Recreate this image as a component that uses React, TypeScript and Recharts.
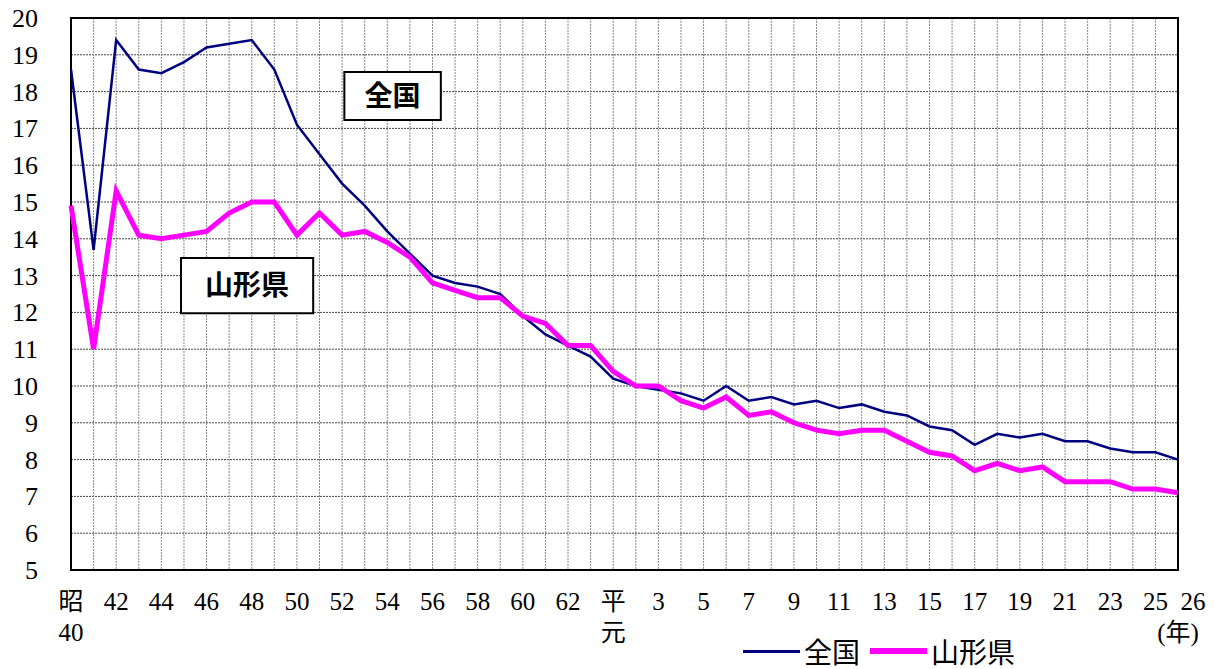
import React from "react";
import {
  LineChart,
  Line,
  XAxis,
  YAxis,
  CartesianGrid,
  Legend,
  ReferenceArea,
} from "recharts";

const years = [
  "昭40", "41", "42", "43", "44", "45", "46", "47", "48", "49",
  "50", "51", "52", "53", "54", "55", "56", "57", "58", "59",
  "60", "61", "62", "63", "平元", "2", "3", "4", "5", "6",
  "7", "8", "9", "10", "11", "12", "13", "14", "15", "16",
  "17", "18", "19", "20", "21", "22", "23", "24", "25", "26",
];

const national = [
  18.6, 13.7, 19.4, 18.6, 18.5, 18.8, 19.2, 19.3, 19.4, 18.6,
  17.1, 16.3, 15.5, 14.9, 14.2, 13.6, 13.0, 12.8, 12.7, 12.5,
  11.9, 11.4, 11.1, 10.8, 10.2, 10.0, 9.9, 9.8, 9.6, 10.0,
  9.6, 9.7, 9.5, 9.6, 9.4, 9.5, 9.3, 9.2, 8.9, 8.8,
  8.4, 8.7, 8.6, 8.7, 8.5, 8.5, 8.3, 8.2, 8.2, 8.0,
];

const yamagata = [
  14.9, 11.0, 15.3, 14.1, 14.0, 14.1, 14.2, 14.7, 15.0, 15.0,
  14.1, 14.7, 14.1, 14.2, 13.9, 13.5, 12.8, 12.6, 12.4, 12.4,
  11.9, 11.7, 11.1, 11.1, 10.4, 10.0, 10.0, 9.6, 9.4, 9.7,
  9.2, 9.3, 9.0, 8.8, 8.7, 8.8, 8.8, 8.5, 8.2, 8.1,
  7.7, 7.9, 7.7, 7.8, 7.4, 7.4, 7.4, 7.2, 7.2, 7.1,
];

// x tick labels, first and second row
const xTickTop = [
  "昭", "", "42", "", "44", "", "46", "", "48", "",
  "50", "", "52", "", "54", "", "56", "", "58", "",
  "60", "", "62", "", "平", "", "3", "", "5", "",
  "7", "", "9", "", "11", "", "13", "", "15", "",
  "17", "", "19", "", "21", "", "23", "", "25", "26",
];
const xTickBottom: Record<number, string> = { 0: "40", 24: "元", 49: "(年)" };

const yTicks = [5, 6, 7, 8, 9, 10, 11, 12, 13, 14, 15, 16, 17, 18, 19, 20];

// annotation boxes in data units
const boxes = [
  { label: "全国", x1: 12.1, x2: 16.37, y1: 17.23, y2: 18.53 },
  { label: "山形県", x1: 4.87, x2: 10.72, y1: 11.98, y2: 13.48 },
];

const data = years.map((year, i) => ({
  i,
  year,
  national: national[i],
  yamagata: yamagata[i],
}));

const serif = "'Times New Roman', 'Liberation Serif', 'Noto Sans CJK JP', serif";
const gothic = "'Noto Sans CJK JP', sans-serif";

function XTick(props: any) {
  const { x, y, payload } = props;
  const idx = payload.value as number;
  const top = xTickTop[idx];
  const bottom = xTickBottom[idx];
  const dx = idx === 49 ? 15 : 0;
  return (
    <g>
      {top && (
        <text x={x + dx} y={y + 32} textAnchor="middle" fontSize={25} style={{ fontFamily: serif }} fill="#000">
          {top}
        </text>
      )}
      {bottom && (
        <text x={x} y={y + 63} textAnchor="middle" fontSize={25} style={{ fontFamily: serif }} fill="#000">
          {bottom}
        </text>
      )}
    </g>
  );
}

function YTick(props: any) {
  const { x, y, payload } = props;
  return (
    <text x={x} y={y + 9} textAnchor="end" fontSize={26} style={{ fontFamily: serif }} fill="#000">
      {payload.value}
    </text>
  );
}

function renderLegend(props: any) {
  const { payload } = props;
  return (
    <div style={{ display: "flex", alignItems: "center", fontFamily: gothic, fontSize: 28 }}>
      {payload.map((entry: any) => (
        <div key={entry.value} style={{ display: "flex", alignItems: "center", marginRight: 10 }}>
          <div
            style={{
              width: 57,
              height: entry.dataKey === "yamagata" ? 6 : 3,
              background: entry.color,
              marginRight: 4,
            }}
          />
          <span style={{ lineHeight: "30px" }}>{entry.value}</span>
        </div>
      ))}
    </div>
  );
}

export default function App() {
  return (
    <div style={{ position: "absolute", left: 0, top: 0, width: 1214, height: 669, background: "#fff" }}>
      <LineChart
        width={1214}
        height={669}
        data={data}
        margin={{ top: 18, right: 36, left: 0, bottom: 0 }}
      >
        <CartesianGrid vertical={false} stroke="#444" strokeDasharray="2 1" strokeWidth={1} />
        <CartesianGrid horizontal={false} stroke="#888" strokeDasharray="2 1" strokeWidth={1} />
        <XAxis
          type="number"
          dataKey="i"
          domain={[0, 49]}
          ticks={data.map((d) => d.i)}
          interval={0}
          height={69}
          axisLine={false}
          tickLine={false}
          tick={<XTick />}
        />
        <YAxis
          type="number"
          domain={[5, 20]}
          ticks={yTicks}
          interval={0}
          width={71}
          axisLine={false}
          tickLine={false}
          tickMargin={27}
          tick={<YTick />}
        />
        <ReferenceArea x1={0} x2={49} y1={5} y2={20} fill="none" stroke="#000" strokeWidth={2} />
        {boxes.map((b) => (
          <ReferenceArea
            key={b.label}
            x1={b.x1}
            x2={b.x2}
            y1={b.y1}
            y2={b.y2}
            fill="#fff"
            fillOpacity={1}
            stroke="#000"
            strokeWidth={2}
            label={{
              value: b.label,
              position: "center",
              fontSize: 28,
              fontWeight: 700,
              fontFamily: gothic,
              fill: "#000",
            }}
          />
        ))}
        <Line
          type="linear"
          dataKey="national"
          name="全国"
          stroke="#000080"
          strokeWidth={2.5}
          dot={false}
          isAnimationActive={false}
        />
        <Line
          type="linear"
          dataKey="yamagata"
          name="山形県"
          stroke="#ff00ff"
          strokeWidth={5}
          dot={false}
          isAnimationActive={false}
        />
        <Legend
          content={renderLegend}
          wrapperStyle={{ position: "absolute", left: 743, top: 636, width: 320, bottom: "auto" }}
        />
      </LineChart>
    </div>
  );
}
